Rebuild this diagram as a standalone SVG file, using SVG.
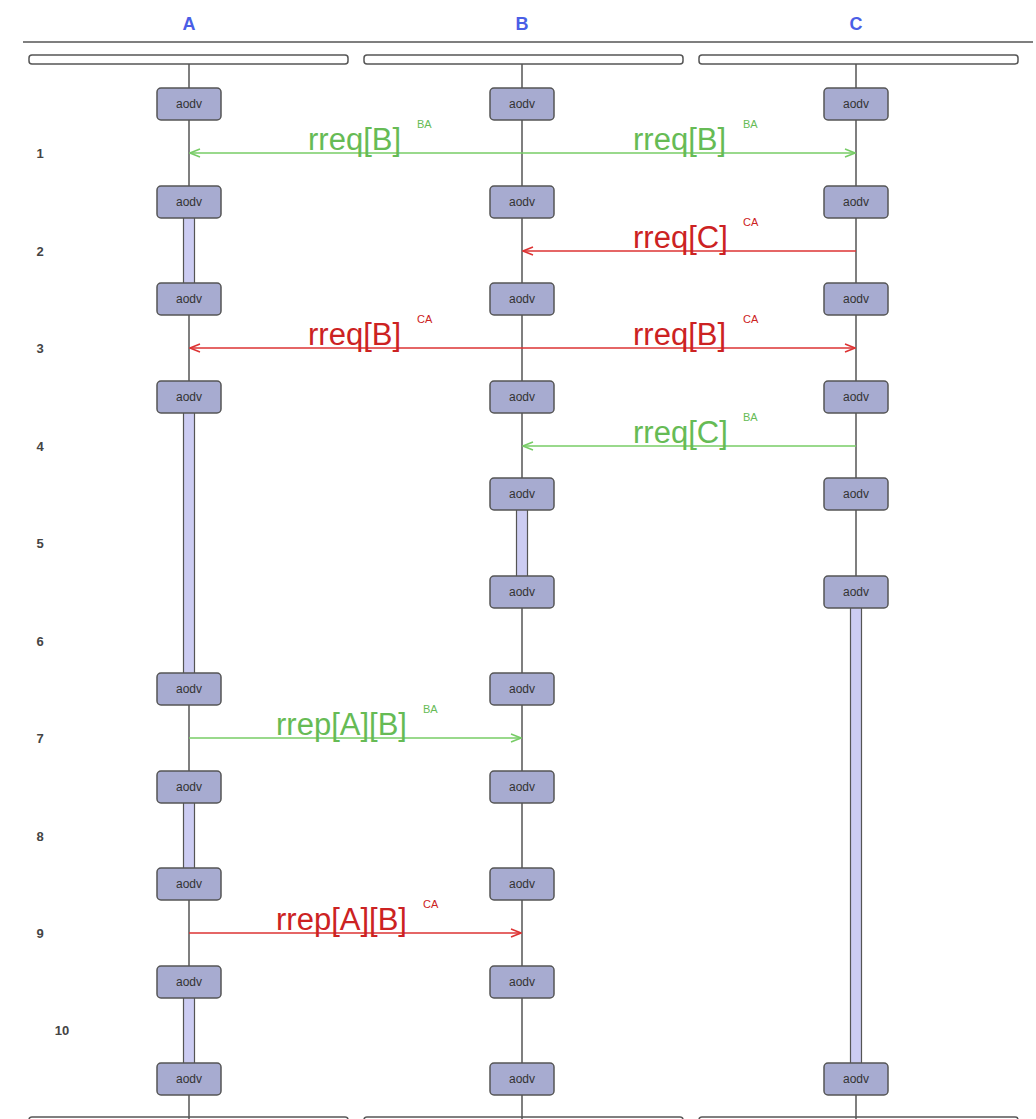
<svg xmlns="http://www.w3.org/2000/svg" width="1036" height="1119" viewBox="0 0 1036 1119">
<style>
.hdr{font-family:"Liberation Sans",Arial,sans-serif;font-size:18px;font-weight:bold;fill:#4a5ee6;text-anchor:middle}
.bar{fill:#fff;stroke:#555;stroke-width:1.5}
.life{stroke:#555;stroke-width:1.5;fill:none}
.act{fill:#ccccf2;stroke:#555;stroke-width:1.2}
.box{fill:#a7abd0;stroke:#555;stroke-width:1.5}
.btx{font-family:"Liberation Sans",Arial,sans-serif;font-size:12px;fill:#333;text-anchor:middle}
.num{font-family:"Liberation Sans",Arial,sans-serif;font-size:13px;font-weight:bold;fill:#444;text-anchor:middle}
.g{stroke:#77cc66;stroke-width:1.5;fill:none}
.r{stroke:#dd3333;stroke-width:1.5;fill:none}
.lg{font-family:"Liberation Sans",Arial,sans-serif;font-size:31px;fill:#66bb55}
.lr{font-family:"Liberation Sans",Arial,sans-serif;font-size:31px;fill:#cc2222}
.sg{font-family:"Liberation Sans",Arial,sans-serif;font-size:11px;fill:#66bb55}
.sr{font-family:"Liberation Sans",Arial,sans-serif;font-size:11px;fill:#cc2222}
</style>
<defs>
<marker id="ag" markerWidth="12" markerHeight="10" refX="11" refY="5" orient="auto" markerUnits="userSpaceOnUse"><path d="M1,1 L11,5 L1,9" fill="none" stroke="#77cc66" stroke-width="1.5"/></marker>
<marker id="ar" markerWidth="12" markerHeight="10" refX="11" refY="5" orient="auto" markerUnits="userSpaceOnUse"><path d="M1,1 L11,5 L1,9" fill="none" stroke="#dd3333" stroke-width="1.5"/></marker>
</defs>
<rect width="1036" height="1119" fill="#fff"/>
<g id="frame">
<line x1="23" y1="42" x2="1033" y2="42" stroke="#555" stroke-width="1.5"/>
<rect class="bar" x="29" y="55" width="319" height="9" rx="3"/>
<rect class="bar" x="364" y="55" width="319" height="9" rx="3"/>
<rect class="bar" x="699" y="55" width="319" height="9" rx="3"/>
<rect class="bar" x="29" y="1117" width="319" height="9" rx="3"/>
<rect class="bar" x="364" y="1117" width="319" height="9" rx="3"/>
<rect class="bar" x="699" y="1117" width="319" height="9" rx="3"/>
<text class="hdr" x="189" y="30">A</text>
<text class="hdr" x="522" y="30">B</text>
<text class="hdr" x="856" y="30">C</text>
</g>
<g id="steps">
<text class="num" x="40" y="158">1</text>
<text class="num" x="40" y="256">2</text>
<text class="num" x="40" y="353">3</text>
<text class="num" x="40" y="451">4</text>
<text class="num" x="40" y="548">5</text>
<text class="num" x="40" y="646">6</text>
<text class="num" x="40" y="743">7</text>
<text class="num" x="40" y="841">8</text>
<text class="num" x="40" y="938">9</text>
<text class="num" x="62" y="1035">10</text>
</g>
<g id="lifelines">
<line class="life" x1="189" y1="64" x2="189" y2="1119"/>
<line class="life" x1="522" y1="64" x2="522" y2="1119"/>
<line class="life" x1="856" y1="64" x2="856" y2="1119"/>
<rect class="act" x="183.5" y="202" width="11" height="97"/>
<rect class="act" x="183.5" y="397" width="11" height="292"/>
<rect class="act" x="183.5" y="787" width="11" height="97"/>
<rect class="act" x="183.5" y="982" width="11" height="97"/>
<rect class="act" x="516.5" y="494" width="11" height="98"/>
<rect class="act" x="850.5" y="592" width="11" height="487"/>
</g>
<g id="connectors">
<line class="g" x1="522" y1="153" x2="190" y2="153" marker-end="url(#ag)"/>
<line class="g" x1="522" y1="153" x2="855" y2="153" marker-end="url(#ag)"/>
<line class="r" x1="856" y1="251" x2="523" y2="251" marker-end="url(#ar)"/>
<line class="r" x1="522" y1="348" x2="190" y2="348" marker-end="url(#ar)"/>
<line class="r" x1="522" y1="348" x2="855" y2="348" marker-end="url(#ar)"/>
<line class="g" x1="856" y1="446" x2="523" y2="446" marker-end="url(#ag)"/>
<line class="g" x1="189" y1="738" x2="521" y2="738" marker-end="url(#ag)"/>
<line class="r" x1="189" y1="933" x2="521" y2="933" marker-end="url(#ar)"/>
<text class="lg" x="308" y="150">rreq[B]</text><text class="sg" x="417" y="128">BA</text>
<text class="lg" x="633" y="150">rreq[B]</text><text class="sg" x="743" y="128">BA</text>
<text class="lr" x="633" y="248">rreq[C]</text><text class="sr" x="743" y="226">CA</text>
<text class="lr" x="308" y="345">rreq[B]</text><text class="sr" x="417" y="323">CA</text>
<text class="lr" x="633" y="345">rreq[B]</text><text class="sr" x="743" y="323">CA</text>
<text class="lg" x="633" y="443">rreq[C]</text><text class="sg" x="743" y="421">BA</text>
<text class="lg" x="276" y="735">rrep[A][B]</text><text class="sg" x="423" y="713">BA</text>
<text class="lr" x="276" y="930">rrep[A][B]</text><text class="sr" x="423" y="908">CA</text>
</g>
<g id="A-nodes">
<g id="A0"><rect class="box" x="157" y="88" width="64" height="32" rx="4"/><text class="btx" x="189" y="108">aodv</text></g>
<g id="A1"><rect class="box" x="157" y="186" width="64" height="32" rx="4"/><text class="btx" x="189" y="206">aodv</text></g>
<g id="A2"><rect class="box" x="157" y="283" width="64" height="32" rx="4"/><text class="btx" x="189" y="303">aodv</text></g>
<g id="A3"><rect class="box" x="157" y="381" width="64" height="32" rx="4"/><text class="btx" x="189" y="401">aodv</text></g>
<g id="A6"><rect class="box" x="157" y="673" width="64" height="32" rx="4"/><text class="btx" x="189" y="693">aodv</text></g>
<g id="A7"><rect class="box" x="157" y="771" width="64" height="32" rx="4"/><text class="btx" x="189" y="791">aodv</text></g>
<g id="A8"><rect class="box" x="157" y="868" width="64" height="32" rx="4"/><text class="btx" x="189" y="888">aodv</text></g>
<g id="A9"><rect class="box" x="157" y="966" width="64" height="32" rx="4"/><text class="btx" x="189" y="986">aodv</text></g>
<g id="A10"><rect class="box" x="157" y="1063" width="64" height="32" rx="4"/><text class="btx" x="189" y="1083">aodv</text></g>
</g>
<g id="B-nodes">
<g id="B0"><rect class="box" x="490" y="88" width="64" height="32" rx="4"/><text class="btx" x="522" y="108">aodv</text></g>
<g id="B1"><rect class="box" x="490" y="186" width="64" height="32" rx="4"/><text class="btx" x="522" y="206">aodv</text></g>
<g id="B2"><rect class="box" x="490" y="283" width="64" height="32" rx="4"/><text class="btx" x="522" y="303">aodv</text></g>
<g id="B3"><rect class="box" x="490" y="381" width="64" height="32" rx="4"/><text class="btx" x="522" y="401">aodv</text></g>
<g id="B4"><rect class="box" x="490" y="478" width="64" height="32" rx="4"/><text class="btx" x="522" y="498">aodv</text></g>
<g id="B5"><rect class="box" x="490" y="576" width="64" height="32" rx="4"/><text class="btx" x="522" y="596">aodv</text></g>
<g id="B6"><rect class="box" x="490" y="673" width="64" height="32" rx="4"/><text class="btx" x="522" y="693">aodv</text></g>
<g id="B7"><rect class="box" x="490" y="771" width="64" height="32" rx="4"/><text class="btx" x="522" y="791">aodv</text></g>
<g id="B8"><rect class="box" x="490" y="868" width="64" height="32" rx="4"/><text class="btx" x="522" y="888">aodv</text></g>
<g id="B9"><rect class="box" x="490" y="966" width="64" height="32" rx="4"/><text class="btx" x="522" y="986">aodv</text></g>
<g id="B10"><rect class="box" x="490" y="1063" width="64" height="32" rx="4"/><text class="btx" x="522" y="1083">aodv</text></g>
</g>
<g id="C-nodes">
<g id="C0"><rect class="box" x="824" y="88" width="64" height="32" rx="4"/><text class="btx" x="856" y="108">aodv</text></g>
<g id="C1"><rect class="box" x="824" y="186" width="64" height="32" rx="4"/><text class="btx" x="856" y="206">aodv</text></g>
<g id="C2"><rect class="box" x="824" y="283" width="64" height="32" rx="4"/><text class="btx" x="856" y="303">aodv</text></g>
<g id="C3"><rect class="box" x="824" y="381" width="64" height="32" rx="4"/><text class="btx" x="856" y="401">aodv</text></g>
<g id="C4"><rect class="box" x="824" y="478" width="64" height="32" rx="4"/><text class="btx" x="856" y="498">aodv</text></g>
<g id="C5"><rect class="box" x="824" y="576" width="64" height="32" rx="4"/><text class="btx" x="856" y="596">aodv</text></g>
<g id="C10"><rect class="box" x="824" y="1063" width="64" height="32" rx="4"/><text class="btx" x="856" y="1083">aodv</text></g>
</g>
</svg>
